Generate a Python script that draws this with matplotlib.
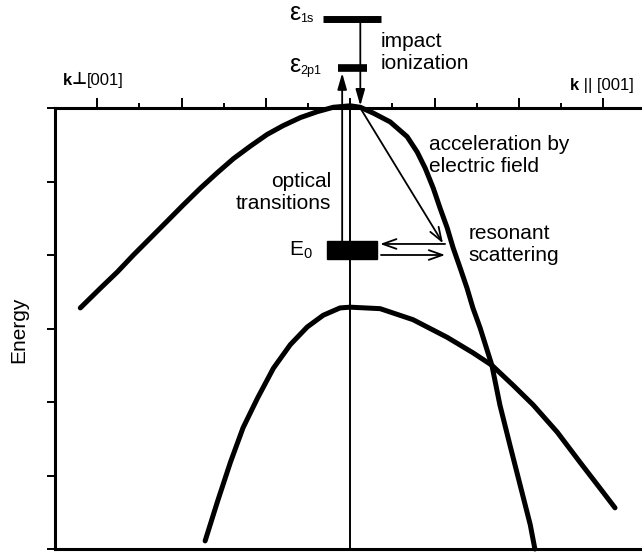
import matplotlib.pyplot as plt
from matplotlib.patches import Rectangle

plt.rcParams['font.family'] = ['Liberation Sans', 'DejaVu Sans']
plt.rcParams['mathtext.fontset'] = 'custom'
plt.rcParams['mathtext.rm'] = 'Liberation Sans'
plt.rcParams['mathtext.it'] = 'Liberation Sans:italic'
plt.rcParams['mathtext.bf'] = 'Liberation Sans:bold'

# upper valence band (k in tick units, energy in tick units, 0 = band top)
upper_k = [-6.40, -5.92, -5.52, -5.14, -4.74, -4.34, -3.96, -3.55, -3.15, -2.77,
           -2.37, -1.97, -1.59, -1.18, -0.78, -0.40, 0.0,
           0.24, 0.55, 0.95, 1.35, 1.59, 1.78, 1.97, 2.13, 2.30, 2.44, 2.61, 2.77,
           2.91, 3.08, 3.36, 3.55, 3.79, 4.03, 4.27, 4.38]
upper_e = [-2.72, -2.45, -2.23, -2.00, -1.77, -1.54, -1.32, -1.09, -0.88, -0.69,
           -0.52, -0.36, -0.24, -0.13, -0.05, 0.01, 0.03,
           0.01, -0.07, -0.19, -0.39, -0.60, -0.82, -1.09, -1.36, -1.63, -1.90, -2.18, -2.45,
           -2.72, -2.99, -3.50, -4.04, -4.59, -5.13, -5.67, -6.0]

# lower valence band
lower_k = [-3.44, -3.15, -2.84, -2.54, -2.20, -1.82, -1.42, -1.02, -0.64, -0.24, 0.0,
           0.71, 1.49, 2.30, 2.91, 3.36, 3.86, 4.34, 4.91, 5.45, 5.92, 6.28]
lower_e = [-5.89, -5.36, -4.82, -4.35, -3.95, -3.54, -3.22, -2.98, -2.82, -2.72, -2.71,
           -2.73, -2.88, -3.12, -3.33, -3.50, -3.77, -4.04, -4.41, -4.82, -5.17, -5.44]

# impurity levels
level_names = ['eps_1s', 'eps_2p1', 'E0']
level_e = [1.21, 0.544, -1.93]

fig = plt.figure(figsize=(6.42, 5.54), dpi=100)
ax = fig.add_axes([55 / 642, 5 / 554, 587 / 642, 441 / 554])
ax.set_xlim(-7, 6.92)
ax.set_ylim(-6, 0)

for side in ['left', 'top', 'bottom']:
    ax.spines[side].set_linewidth(2.2)
ax.spines['right'].set_visible(False)

ax.xaxis.tick_top()
ax.set_xticks(range(-6, 7, 2))
ax.set_xticks(range(-5, 7, 2), minor=True)
ax.tick_params(axis='x', which='major', direction='out', length=7, width=1.4,
               labeltop=False, labelbottom=False)
ax.tick_params(axis='x', which='minor', direction='out', length=3.5, width=1.4)
ax.set_yticks(range(-6, 1))
ax.tick_params(axis='y', direction='out', length=6, width=1.4, labelleft=False)

# bands
for k, e in [(upper_k, upper_e), (lower_k, lower_e)]:
    ax.plot(k, e, color='black', lw=3.6, solid_capstyle='round',
            solid_joinstyle='round', clip_on=False, zorder=3)

# k = 0 line
ax.plot([0, 0], [0, -6], color='black', lw=1.4, zorder=2)

# levels
ax.plot([-0.64, 0.73], [level_e[0], level_e[0]], color='black', lw=5,
        solid_capstyle='butt', clip_on=False)
ax.plot([-0.28, 0.40], [level_e[1], level_e[1]], color='black', lw=5.5,
        solid_capstyle='butt', clip_on=False)
ax.add_patch(Rectangle((-0.55, level_e[2] - 0.12), 1.19, 0.24, color='black', zorder=4))

arrow = dict(arrowstyle='-|>,head_length=0.7,head_width=0.2', color='black',
             lw=1.3, shrinkA=0, shrinkB=0, mutation_scale=14)
open_arrow = dict(arrowstyle='->,head_length=0.7,head_width=0.25', color='black',
                  lw=1.3, shrinkA=0, shrinkB=0, mutation_scale=14)

# optical transition and impact ionization
ax.annotate('', xy=(-0.19, 0.476), xytext=(-0.19, -1.81), arrowprops=arrow,
            annotation_clip=False)
ax.annotate('', xy=(0.24, 0.03), xytext=(0.24, level_e[0]), arrowprops=arrow,
            annotation_clip=False)
# acceleration and resonant scattering
ax.annotate('', xy=(2.20, -1.84), xytext=(0.24, 0.0), arrowprops=open_arrow)
ax.annotate('', xy=(0.71, -1.85), xytext=(2.25, -1.85), arrowprops=open_arrow)
ax.annotate('', xy=(2.25, -2.0), xytext=(0.73, -2.0), arrowprops=open_arrow)

# level labels: large epsilon with small subscript
for y_base, sub in [(1.20, '1s'), (0.49, '2p1')]:
    t_eps = ax.text(-1.18, y_base, 'ε', fontsize=18, ha='right', va='baseline')
    ax.annotate(sub, xy=(1, 0), xycoords=t_eps, xytext=(0, 2),
                textcoords='offset points', fontsize=9, ha='left', va='baseline')
ax.text(-0.88, -1.93, r'$\mathregular{E_0}$', fontsize=15, ha='right', va='center')

ax.text(0.71, 0.76, 'impact\nionization', fontsize=15, ha='left', va='center')
ax.text(1.87, -0.64, 'acceleration by\nelectric field', fontsize=15, ha='left', va='center')
ax.text(-0.45, -1.15, 'optical\ntransitions', fontsize=15, ha='right', va='center',
        multialignment='right')
ax.text(2.80, -1.86, 'resonant\nscattering', fontsize=15, ha='left', va='center')

t_k = ax.text(-6.82, 0.37, 'k', fontsize=12, fontweight='bold', ha='left', va='center')
t_perp = ax.annotate('⊥', xy=(1, 0), xycoords=t_k, fontsize=12, fontweight='bold',
                     ha='left', va='bottom', family='DejaVu Sans')
ax.annotate('[001]', xy=(1, 0), xycoords=t_perp, fontsize=12, ha='left', va='bottom')

t_k2 = ax.text(5.22, 0.31, 'k', fontsize=12, fontweight='bold', ha='left', va='center')
ax.annotate(' || [001]', xy=(1, 0), xycoords=t_k2, fontsize=12, ha='left', va='bottom')

fig.text(19 / 642, 1 - 330 / 554, 'Energy', fontsize=15, rotation=90,
         ha='center', va='center')

fig.savefig('out.png', dpi=100)
